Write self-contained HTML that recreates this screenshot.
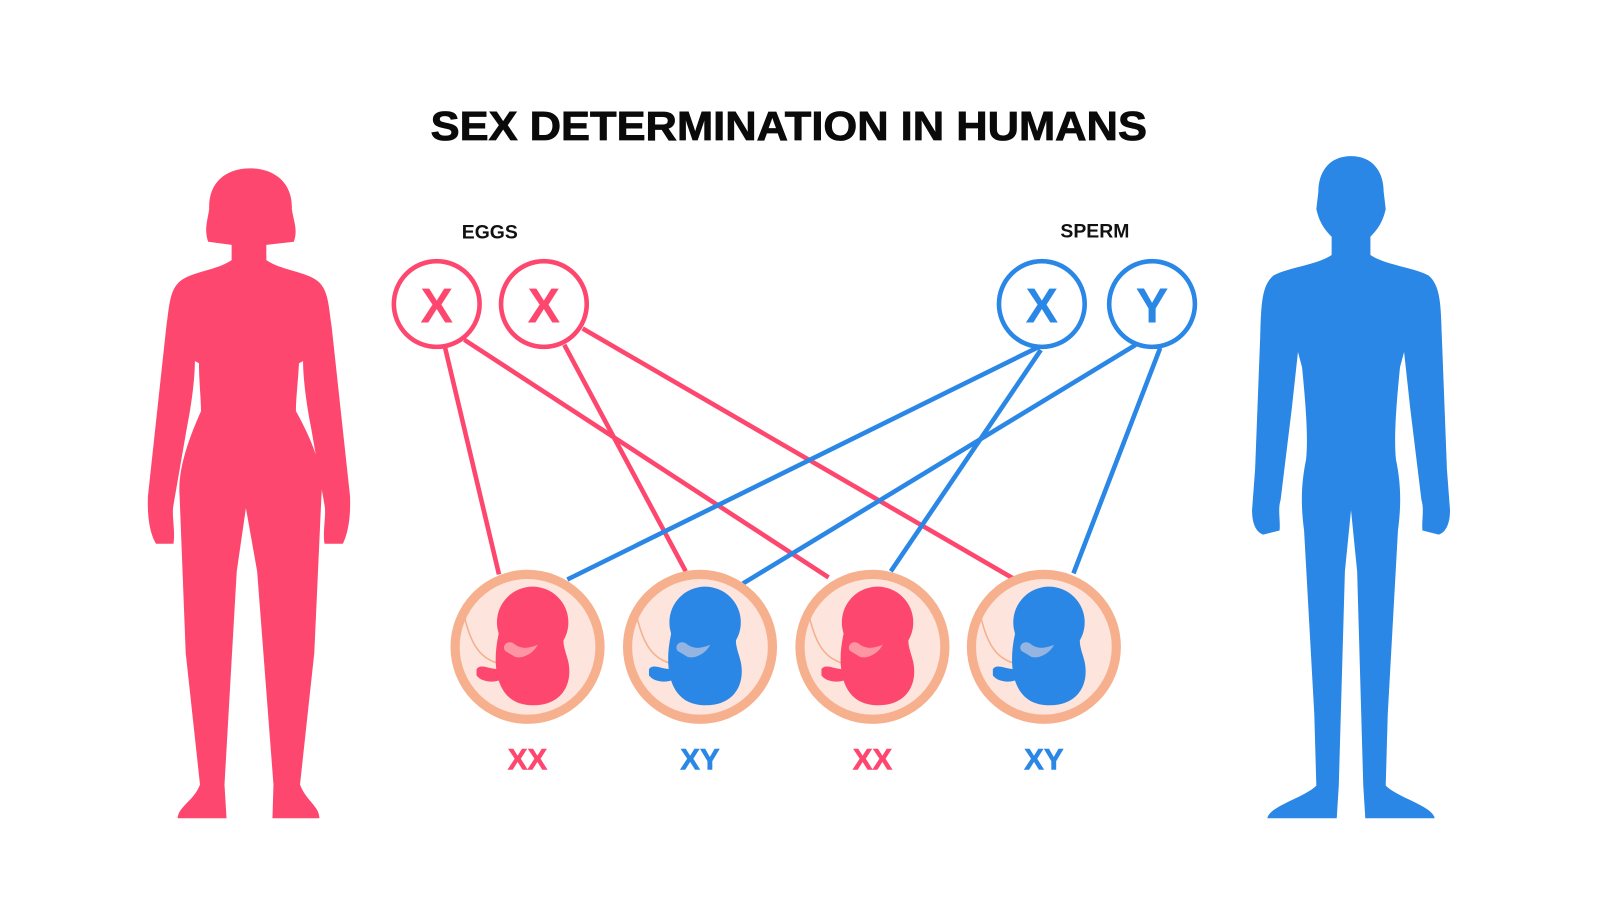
<!DOCTYPE html>
<html><head><meta charset="utf-8"><style>
html,body{margin:0;padding:0;background:#fff;width:1600px;height:907px;overflow:hidden}
svg{display:block}
text{font-family:"Liberation Sans",Arial,sans-serif;font-weight:bold}
</style></head><body>
<svg width="1600" height="907" viewBox="0 0 1568 889" preserveAspectRatio="none" xmlns="http://www.w3.org/2000/svg">
<defs>
<g id="emb">
<circle r="71" fill="#fde4dc" stroke="#f7b08e" stroke-width="9"/>
<path d="M-62 -30 C-55 0 -45 15 -20 18" fill="none" stroke="#f4b08e" stroke-width="1.5"/>
<circle cx="5" cy="-24" r="35"/>
<path d="M-28 -14 C-36 20 -30 54 0 57 C30 60 45 40 40 15 C37 2 32 -4 38 -20 L25 -38 Z"/>
<path d="M-50 22 C-46 16 -38 22 -28 22 C-22 20 -20 28 -26 32 C-34 36 -46 34 -50 28 Z"/>
<path d="M-22 4 C-26 -2 -18 -8 -12 -2 C-6 2 0 2 10 -2 C6 6 -4 12 -12 10 Z" fill="#fde4dc" opacity="0.5"/>
</g>
</defs>

<text x="773" y="137" font-size="40" text-anchor="middle" fill="#0a0a0a" textLength="702" lengthAdjust="spacingAndGlyphs" stroke="#0a0a0a" stroke-width="0.8">SEX DETERMINATION IN HUMANS</text>
<text x="480" y="234" font-size="19" text-anchor="middle" fill="#111">EGGS</text>
<text x="1073" y="233" font-size="19" text-anchor="middle" fill="#111">SPERM</text>

<g fill="#fe476f">
<path d="M245 165 C270 165 287 180 286 205 C288 218 292 225 288 237 L261 240 L261 255 C275 265 300 266 312 276 C322 285 322 300 325 320 L338 440 L343 486 C344 510 340 525 336 533 L318 533 C316 520 320 505 318 495 L305 420 C300 395 297 370 297 354 L293 356 C292 375 290 390 290 403 C305 430 318 460 315 486 L308 640 L294 769 C300 785 313 790 313 802 L267 802 L268 769 L252 560 L241 498 L232 560 L220 769 L222 802 L174 802 C175 790 190 785 196 769 L182 640 L176 486 C174 460 185 430 197 403 C197 390 195 375 195 356 L191 354 C191 370 188 395 183 420 L170 495 C168 505 172 520 170 533 L153 533 C148 525 144 510 145 486 L150 440 L163 320 C166 300 166 285 176 276 C188 266 213 265 227 255 L227 240 L204 237 C200 225 203 218 205 205 C204 180 220 165 245 165 Z"/>
</g>
<g fill="#2a87e6">
<path d="M1324 153 C1345 153 1356 168 1356 188 L1358 205 C1355 218 1350 225 1343 232 L1343 250 C1358 260 1385 262 1400 270 C1412 280 1412 300 1413 330 L1418 460 L1421 500 C1421 515 1416 522 1410 524 L1394 520 C1393 510 1396 500 1393 490 L1382 400 L1376 345 L1372 360 C1368 400 1366 430 1368 450 C1372 470 1374 490 1370 520 L1360 700 L1358 770 C1370 782 1404 790 1406 802 L1338 802 L1336 770 L1330 560 L1324 500 L1318 560 L1312 770 L1310 802 L1242 802 C1244 790 1278 782 1290 770 L1288 700 L1278 520 C1274 490 1276 470 1280 450 C1282 430 1280 400 1276 360 L1272 345 L1266 400 L1255 490 C1252 500 1255 510 1254 520 L1238 524 C1232 522 1227 515 1227 500 L1230 460 L1235 330 C1236 300 1236 280 1248 270 C1263 262 1290 260 1305 250 L1305 232 C1298 225 1293 218 1290 205 L1292 188 C1292 168 1303 153 1324 153 Z"/>
</g>

<g stroke-width="4.5" fill="none">
<g stroke="#fe476f">
<line x1="436" y1="340" x2="489" y2="563"/>
<line x1="455" y1="333" x2="812" y2="566"/>
<line x1="553" y1="338" x2="672" y2="560"/>
<line x1="571" y1="322" x2="993" y2="567"/>
</g>
<g stroke="#2a87e6">
<line x1="1018" y1="340" x2="556" y2="568"/>
<line x1="1113" y1="338" x2="728" y2="572"/>
<line x1="1020" y1="343" x2="873" y2="560"/>
<line x1="1137" y1="341" x2="1052" y2="562"/>
</g>
</g>

<g stroke-width="4.5" fill="#fff">
<circle cx="428" cy="298" r="42" stroke="#fe476f"/>
<circle cx="533" cy="298" r="42" stroke="#fe476f"/>
<circle cx="1021" cy="298" r="42" stroke="#2a87e6"/>
<circle cx="1129" cy="298" r="42" stroke="#2a87e6"/>
</g>
<g font-size="48" text-anchor="middle">
<text x="428" y="316" fill="#fe476f">X</text>
<text x="533" y="316" fill="#fe476f">X</text>
<text x="1021" y="316" fill="#2a87e6">X</text>
<text x="1129" y="316" fill="#2a87e6">Y</text>
</g>

<use href="#emb" x="517" y="634" fill="#fe476f"/>
<use href="#emb" x="686" y="634" fill="#2a87e6"/>
<use href="#emb" x="855" y="634" fill="#fe476f"/>
<use href="#emb" x="1023" y="634" fill="#2a87e6"/>

<g font-size="29" text-anchor="middle" stroke-width="0.6">
<text x="517" y="754" fill="#fe476f" stroke="#fe476f">XX</text>
<text x="686" y="754" fill="#2a87e6" stroke="#2a87e6">XY</text>
<text x="855" y="754" fill="#fe476f" stroke="#fe476f">XX</text>
<text x="1023" y="754" fill="#2a87e6" stroke="#2a87e6">XY</text>
</g>
</svg>
</body></html>
